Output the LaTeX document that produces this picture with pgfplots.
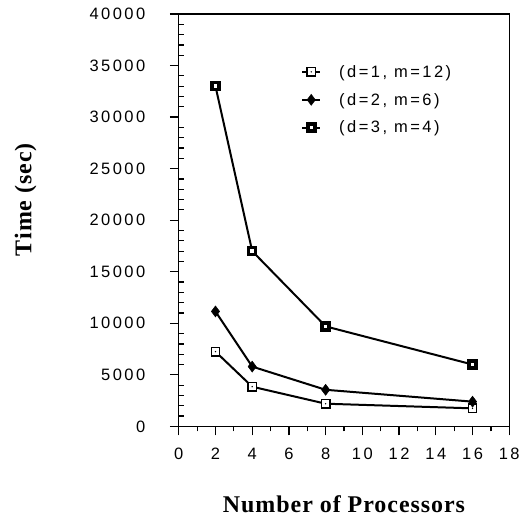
\documentclass[border=0pt]{standalone}
\usepackage{fontspec}
\usepackage{pgfplots}
\pgfplotsset{compat=1.18}
\newfontfamily\tickfont{Liberation Sans}[LetterSpace=15]
\newfontfamily\labfont{Liberation Serif}[LetterSpace=4]

% square with a small black dot in the middle
\pgfdeclareplotmark{sqdot}{%
  \pgfpathrectangle{\pgfqpoint{-\pgfplotmarksize}{-\pgfplotmarksize}}{\pgfqpoint{2\pgfplotmarksize}{2\pgfplotmarksize}}%
  \pgfusepathqfillstroke
  \begin{pgfscope}
  \pgfsetfillcolor{black}%
  \pgfpathcircle{\pgfpointorigin}{0.8pt}%
  \pgfusepathqfill
  \end{pgfscope}
}

\begin{document}
\begin{tikzpicture}
\begin{axis}[
    scale only axis,
    width=331pt,
    height=413pt,
    xmin=0, xmax=18,
    ymin=0, ymax=40000,
    xtick={0,2,...,18},
    ytick={0,5000,...,40000},
    scaled y ticks=false,
    minor x tick num=1,
    minor y tick num=4,
    tick pos=left,
    tick align=outside,
    major tick length=9pt,
    minor tick length=5pt,
    minor y tick style={xshift=5pt},
    tick style={black, line width=1.2pt},
    axis line style={line width=1.3pt},
    /pgf/number format/1000 sep={},
    /pgf/number format/assume math mode=true,
    ticklabel style={font=\tickfont\fontsize{16.5}{18}\selectfont},
    xticklabel style={yshift=-9pt},
    yticklabel style={xshift=-21pt},
    xlabel={Number of Processors},
    ylabel={Time (sec)},
    label style={font=\labfont\bfseries\fontsize{24}{26}\selectfont},
    xlabel style={at={(axis description cs:0.5,0)}, anchor=base, yshift=-86pt},
    ylabel style={at={(axis description cs:-0.446,0.55)}, anchor=base},
    legend style={draw=none, fill=none, at={(rel axis cs:0.361,0.886)}, anchor=north west,
        font=\tickfont\fontsize{16.5}{18}\selectfont, row sep=10.5pt,
        /tikz/every odd column/.append style={column sep=16pt}},
    legend cell align=left,
    legend image code/.code={%
        \draw[mark repeat=2,mark phase=2,#1] plot coordinates {(0pt,0pt) (9pt,0pt) (18pt,0pt)};},
]
\addplot[black, line width=2pt, mark=sqdot, mark size=4.2pt,
    mark options={solid, fill=white, line width=1.5pt}] coordinates {
    (2,7250) (4,3850) (8,2200) (16,1750)
};
\addlegendentry{(d=1, m=12)}
\addplot[black, line width=2pt, mark=diamond*, mark size=5.5pt,
    mark options={solid, fill=black, line width=0.5pt}] coordinates {
    (2,11150) (4,5800) (8,3550) (16,2400)
};
\addlegendentry{(d=2, m=6)}
\addplot[black, line width=2pt, mark=square*, mark size=3.5pt,
    mark options={solid, fill=white, line width=3.6pt}] coordinates {
    (2,33000) (4,17000) (8,9700) (16,6000)
};
\addlegendentry{(d=3, m=4)}
\end{axis}
\path (-179pt,-92pt) rectangle (344pt,427pt);
\end{tikzpicture}
\end{document}
